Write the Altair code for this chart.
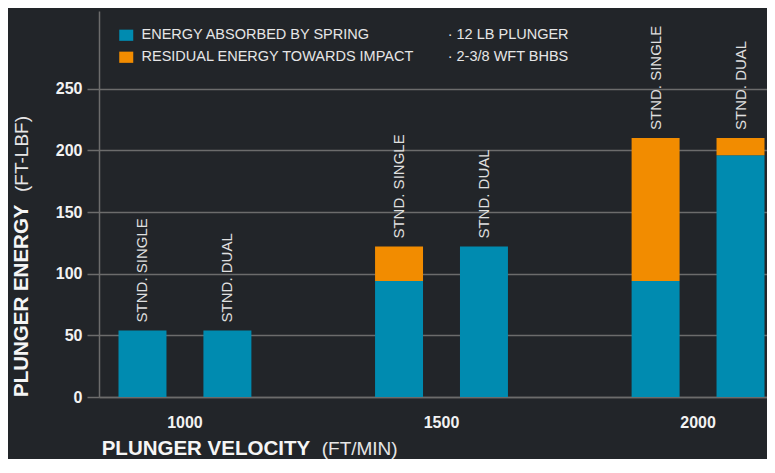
import altair as alt
import pandas as pd

# ---- data ----
velocity = ["1000", "1000", "1500", "1500", "2000", "2000"]
config = ["STND. SINGLE", "STND. DUAL", "STND. SINGLE", "STND. DUAL", "STND. SINGLE", "STND. DUAL"]
absorbed = [54, 54, 94, 122, 94, 196]
residual = [0, 0, 28, 0, 116, 14]
series = ["ENERGY ABSORBED BY SPRING", "RESIDUAL ENERGY TOWARDS IMPACT"]
series_colors = ["#008bb0", "#f28c00"]
notes = ["· 12 LB PLUNGER", "· 2-3/8 WFT BHBS"]
y_ticks = [0, 50, 100, 150, 200, 250]
x_title = ["PLUNGER VELOCITY", "(FT/MIN)"]
y_title = ["PLUNGER ENERGY", "(FT-LBF)"]
config_order = ["STND. SINGLE", "STND. DUAL"]

FONT = "Liberation Sans"
BG = "#222529"
GRID = "#6c6c6c"

rows = []
for v, c, a, r in zip(velocity, config, absorbed, residual):
    rows.append({"velocity": v, "config": c, "series": series[0], "order": 0, "energy": a})
    rows.append({"velocity": v, "config": c, "series": series[1], "order": 1, "energy": r})
long_df = pd.DataFrame(rows)
wide_df = pd.DataFrame({
    "velocity": velocity,
    "config": config,
    "total": [a + r for a, r in zip(absorbed, residual)],
})

x_enc = alt.X(
    "velocity:N",
    scale=alt.Scale(paddingInner=0.482, paddingOuter=0.076, range=[0, 685]),
    axis=alt.Axis(
        title=None, labelAngle=0, ticks=False, labelPadding=17,
        labelFont=FONT, labelFontSize=16, labelFontWeight="bold", labelColor="#f2f2f2",
        domainColor=GRID, domainWidth=1.5, grid=False,
    ),
)
xoff_enc = alt.XOffset(
    "config:N", sort=config_order,
    scale=alt.Scale(paddingInner=0.435, paddingOuter=0),
)

bars = alt.Chart(long_df).mark_bar().encode(
    x=x_enc,
    xOffset=xoff_enc,
    y=alt.Y(
        "energy:Q", stack="zero",
        scale=alt.Scale(domain=[0, 313], nice=False, zero=True),
        axis=alt.Axis(
            title=None, values=y_ticks, tickSize=12, tickColor=GRID, tickWidth=1.5,
            labelPadding=5, labelFont=FONT, labelFontSize=16, labelFontWeight="bold",
            labelColor="#f2f2f2", domainColor=GRID, domainWidth=1.5,
            grid=True, gridColor=GRID, gridWidth=1.5,
        ),
    ),
    color=alt.Color(
        "series:N",
        scale=alt.Scale(domain=series, range=series_colors),
        legend=alt.Legend(
            title=None, orient="none", direction="vertical", legendX=20, legendY=17,
            symbolType="M-1,-0.8H1V0.8H-1Z", symbolSize=196, symbolStrokeWidth=0,
            symbolOpacity=1, labelFont=FONT, labelFontSize=14.5, labelColor="#e6e6e6",
            labelOffset=8, rowPadding=7, padding=0, labelLimit=500,
        ),
    ),
    order=alt.Order("order:Q"),
)

labels = alt.Chart(wide_df).mark_text(
    angle=270, align="left", baseline="middle", dx=8,
    font=FONT, fontSize=15, color="#e0e0e0",
).encode(
    x=alt.X("velocity:N"),
    xOffset=alt.XOffset("config:N", sort=config_order),
    y=alt.Y("total:Q"),
    text="config:N",
)


def txt(s, x, y, size, weight="normal", color="#e6e6e6", angle=0):
    kw = dict(align="left", baseline="alphabetic", font=FONT, fontSize=size,
              fontWeight=weight, color=color)
    if angle:
        kw["angle"] = angle
    return alt.Chart(pd.DataFrame({"t": [s]})).mark_text(**kw).encode(
        x=alt.value(x), y=alt.value(y), text="t:N"
    )


xt1 = txt(x_title[0], 2.7, 444, 20.5, "bold", "#f5f5f5")
xt2 = txt(x_title[1], 222.7, 444, 19, "normal", "#e6e6e6")
yt1 = txt(y_title[0], -71, 386, 20.5, "bold", "#f5f5f5", angle=270)
yt2 = txt(y_title[1], -71, 181, 19, "normal", "#e6e6e6", angle=270)

note_layers = []
for i, n in enumerate(notes):
    note_layers.append(
        alt.Chart(pd.DataFrame({"t": [n]})).mark_text(
            align="left", baseline="middle", font=FONT, fontSize=14.5, color="#e6e6e6"
        ).encode(x=alt.value(348.7), y=alt.value(24 + 22 * i), text="t:N")
    )

chart = alt.layer(bars, labels, xt1, xt2, yt1, yt2, *note_layers).properties(
    width=668,
    height=386,
    padding={"left": 91, "top": 3, "right": 0, "bottom": 62},
    autosize=alt.AutoSizeParams(type="none"),
    background=BG,
).configure_view(stroke=None)

chart.save("out.html", embed_options={"renderer": "svg", "actions": False})
